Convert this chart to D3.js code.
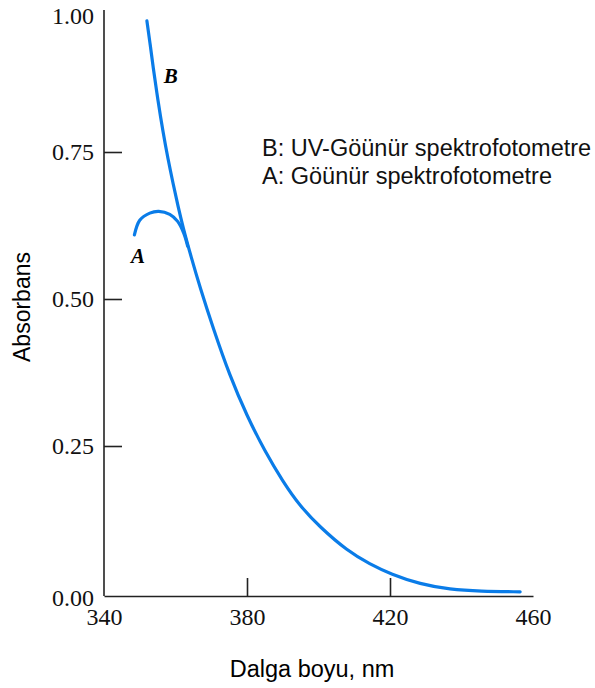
<!DOCTYPE html>
<html>
<head>
<meta charset="utf-8">
<script src="https://cdn.jsdelivr.net/npm/d3@7"></script>
<style>
	body { margin: 0; background: #fff; }
	svg { display: block; }
</style>
</head>
<body>
<svg id="chart"></svg>
<script>
// curve B: UV-visible spectrophotometer
const wavelengthB = [352.0, 352.9, 353.7, 355.1, 356.5, 357.9, 359.3, 360.7, 362.1, 364.3, 366.9, 370.5, 375.2, 380.0, 385.0, 390.1, 394.8, 400.4, 408.0, 414.4, 420.3, 428.4, 436.8, 445.2, 456.4];
const absorbanceB = [0.973, 0.934, 0.896, 0.837, 0.784, 0.738, 0.697, 0.658, 0.622, 0.573, 0.519, 0.451, 0.369, 0.301, 0.241, 0.189, 0.148, 0.112, 0.072, 0.049, 0.032, 0.015, 0.006, 0.003, 0.002];

// curve A: visible spectrophotometer
const wavelengthA = [348.5, 350.0, 352.8, 355.3, 358.4, 360.6, 362.3, 363.4];
const absorbanceA = [0.609, 0.634, 0.646, 0.649, 0.644, 0.632, 0.612, 0.590];

const xTicks = [340, 380, 420, 460];
const yTicks = [0, 0.25, 0.5, 0.75, 1];

const legendLines = ["B: UV-Göünür spektrofotometre", "A: Göünür spektrofotometre"];

const W = 595, H = 688;
const blue = "#0a7ce8";

const svg = d3.select("#chart")
	.attr("width", W)
	.attr("height", H);

const x = d3.scaleLinear().domain([340, 460]).range([104, 533]);
const y = d3.scaleLinear().domain([0, 1]).range([593, 5]);
const axisY = y(0) + 3;

const serif = "'Liberation Serif', 'Times New Roman', serif";
const sans = "'Liberation Sans', Arial, sans-serif";

// x axis
const gx = svg.append("g")
	.attr("transform", `translate(0,${axisY})`)
	.call(d3.axisBottom(x).tickValues(xTicks).tickSizeInner(-18).tickSizeOuter(0).tickPadding(12).tickFormat(d3.format("d")));
gx.select(".domain").attr("stroke", "#222").attr("stroke-width", 1.6);
gx.selectAll(".tick line")
	.attr("stroke", "#222").attr("stroke-width", 1.6)
	.attr("opacity", d => (d === 340 || d === 460) ? 0 : 1);
gx.selectAll(".tick text")
	.attr("font-family", serif).attr("font-size", 24).attr("fill", "#111");

// y axis
const gy = svg.append("g")
	.attr("transform", `translate(${x(340)},0)`)
	.call(d3.axisLeft(y).tickValues(yTicks).tickSizeInner(-18).tickSizeOuter(0).tickPadding(10).tickFormat(d3.format(".2f")));
gy.select(".domain").attr("d", `M0,${axisY}V10`).attr("stroke", "#222").attr("stroke-width", 1.6);
gy.selectAll(".tick line")
	.attr("stroke", "#222").attr("stroke-width", 1.6)
	.attr("opacity", d => (d === 0 || d === 1) ? 0 : 1);
gy.selectAll(".tick text")
	.attr("font-family", serif).attr("font-size", 24).attr("fill", "#111")
	.attr("dy", d => d === 1 ? "0.75em" : d === 0 ? "0.5em" : "0.32em");

// axis titles
svg.append("text")
	.attr("x", 312)
	.attr("y", 677)
	.attr("text-anchor", "middle")
	.attr("font-family", sans)
	.attr("font-size", 23.5)
	.text("Dalga boyu, nm");

svg.append("text")
	.attr("transform", "rotate(-90)")
	.attr("x", -307)
	.attr("y", 30)
	.attr("text-anchor", "middle")
	.attr("font-family", sans)
	.attr("font-size", 23)
	.text("Absorbans");

// curves
const lineB = d3.line()
	.x(d => x(d[0]))
	.y(d => y(d[1]))
	.curve(d3.curveBasis);

const lineA = d3.line()
	.x(d => x(d[0]))
	.y(d => y(d[1]))
	.curve(d3.curveCatmullRom.alpha(0.5));

svg.append("path")
	.datum(d3.zip(wavelengthB, absorbanceB))
	.attr("fill", "none")
	.attr("stroke", blue)
	.attr("stroke-width", 3.2)
	.attr("stroke-linecap", "round")
	.attr("d", lineB);

svg.append("path")
	.datum(d3.zip(wavelengthA, absorbanceA))
	.attr("fill", "none")
	.attr("stroke", blue)
	.attr("stroke-width", 3.2)
	.attr("stroke-linecap", "round")
	.attr("d", lineA);

// curve labels
svg.append("text")
	.attr("x", x(358.7))
	.attr("y", y(0.867))
	.attr("text-anchor", "middle")
	.attr("font-family", serif)
	.attr("font-style", "italic")
	.attr("font-weight", "bold")
	.attr("font-size", 21)
	.text("B");

svg.append("text")
	.attr("x", x(349.5))
	.attr("y", y(0.561))
	.attr("text-anchor", "middle")
	.attr("font-family", serif)
	.attr("font-style", "italic")
	.attr("font-weight", "bold")
	.attr("font-size", 21)
	.text("A");

// legend text
svg.append("g")
	.selectAll("text")
	.data(legendLines)
	.enter().append("text")
	.attr("x", 262)
	.attr("y", (d, i) => 156 + i * 28)
	.attr("font-family", sans)
	.attr("font-size", 23.5)
	.attr("fill", "#111")
	.text(d => d);
</script>
</body>
</html>
